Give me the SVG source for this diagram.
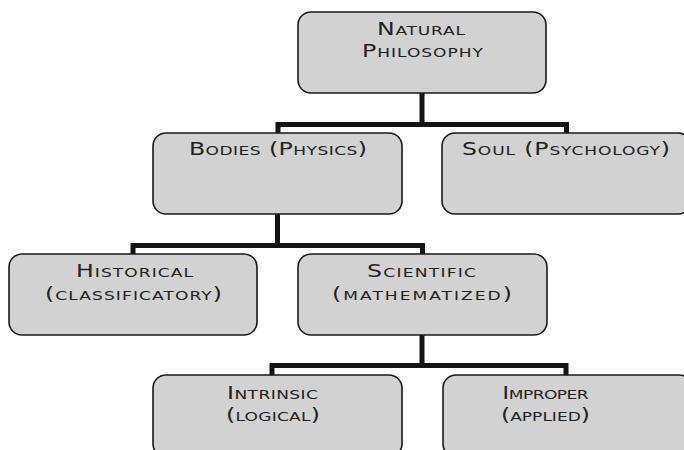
<svg xmlns="http://www.w3.org/2000/svg" width="684" height="450" viewBox="0 0 684 450">
<style>
.box{fill:#d1d2d1;stroke:#1a1a1a;stroke-width:1.6}
.con{fill:none;stroke:#141414;stroke-width:5;stroke-linejoin:miter}
text{font-family:"DejaVu Sans","Liberation Sans",sans-serif;font-size:17.5px;font-variant:small-caps;fill:#222;text-anchor:middle}
</style>
<rect width="684" height="450" fill="#fff"/>
<g id="connectors">
<path class="con" d="M422,93 V124.5 M278,134 V124.5 H566.5 V134"/>
<path class="con" d="M277.5,214 V245.5 M133,254 V245.5 H422.5 V254"/>
<path class="con" d="M422,334 V365.5 M272,375 V365.5 H566 V375"/>
</g>
<g id="natural-philosophy">
<rect class="box" x="298" y="12" width="248" height="81" rx="13"/>
<text transform="translate(421 35) scale(1.35 1)" textLength="65.2" lengthAdjust="spacing">Natural</text>
<text transform="translate(422.5 57) scale(1.35 1)" textLength="89.6" lengthAdjust="spacing">Philosophy</text>
</g>
<g id="bodies">
<rect class="box" x="153" y="133" width="249" height="81" rx="13"/>
<text transform="translate(278 155) scale(1.35 1)" textLength="131.9" lengthAdjust="spacing">Bodies (Physics)</text>
</g>
<g id="soul">
<rect class="box" x="442" y="133" width="249" height="81" rx="13"/>
<text transform="translate(566 155) scale(1.35 1)" textLength="154.1" lengthAdjust="spacing">Soul (Psychology)</text>
</g>
<g id="historical">
<rect class="box" x="9" y="254" width="248" height="81" rx="13"/>
<text transform="translate(134.5 277) scale(1.35 1)" textLength="86.7" lengthAdjust="spacing">Historical</text>
<text transform="translate(133.5 300) scale(1.35 1)" textLength="131.1" lengthAdjust="spacing">(classificatory)</text>
</g>
<g id="scientific">
<rect class="box" x="298" y="254" width="249" height="81" rx="13"/>
<text transform="translate(421.5 277) scale(1.35 1)" textLength="80.7" lengthAdjust="spacing">Scientific</text>
<text transform="translate(422 300) scale(1.35 1)" textLength="133.3" lengthAdjust="spacing">(mathematized)</text>
</g>
<g id="intrinsic">
<rect class="box" x="153" y="375" width="249" height="82" rx="13"/>
<text transform="translate(272.5 399) scale(1.35 1)" textLength="67.4" lengthAdjust="spacing">Intrinsic</text>
<text transform="translate(273 421) scale(1.35 1)" textLength="69.6" lengthAdjust="spacing">(logical)</text>
</g>
<g id="improper">
<rect class="box" x="443" y="375" width="249" height="82" rx="13"/>
<text transform="translate(545.5 399) scale(1.35 1)" textLength="64" lengthAdjust="spacing">Improper</text>
<text transform="translate(545.5 421) scale(1.35 1)" textLength="66" lengthAdjust="spacing">(applied)</text>
</g>
</svg>
